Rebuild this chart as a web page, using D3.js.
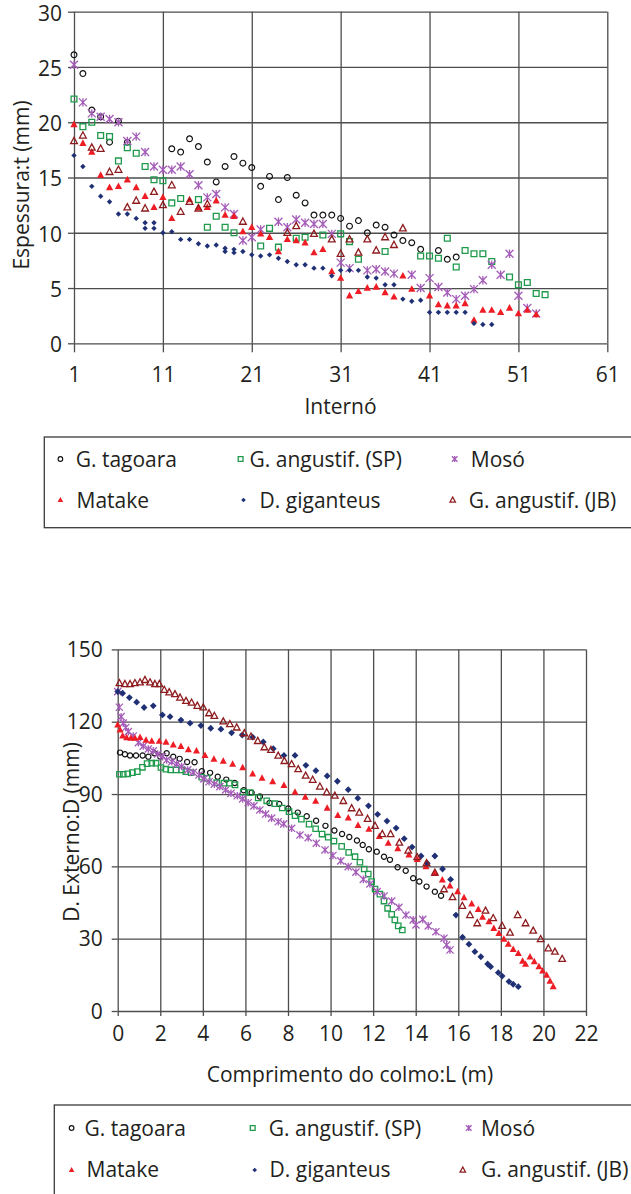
<!DOCTYPE html>
<html>
<head>
<meta charset="utf-8">
<script src="https://cdn.jsdelivr.net/npm/d3@7"></script>
<style>
  body { margin: 0; background: #fff; }
  svg { display: block; }
  text { font-family: "Open Sans", sans-serif; fill: #231f20; }
</style>
</head>
<body>
<div id="chart"></div>
<script>
// ---- series names (legend order) ----
const seriesNames = ["G. tagoara", "G. angustif. (SP)", "Mosó", "Matake", "D. giganteus", "G. angustif. (JB)"];

// ---- top chart: internode number vs wall thickness t (mm) ----
const topTagoara = [[1,26.1],[2,24.4],[3,21.1],[4,20.5],[5,18.2],[6,20.1],[7,18.2],[12,17.6],[13,17.3],[14,18.5],[15,17.8],[16,16.4],[17,14.6],[18,16.0],[19,16.9],[20,16.3],[21,15.9],[22,14.2],[23,15.1],[24,13.0],[25,15.0],[26,13.4],[27,12.7],[28,11.6],[29,11.6],[30,11.6],[31,11.3],[32,10.6],[33,11.1],[34,10.0],[35,10.7],[36,10.5],[37,9.8],[38,9.3],[39,9.1],[40,8.5],[42,8.4],[43,7.6],[44,7.8]];
const topAngustSP = [[1,22.1],[2,19.6],[3,20.0],[4,18.8],[5,18.7],[6,16.5],[7,17.7],[8,17.2],[9,16.0],[10,14.8],[11,14.7],[12,12.7],[13,13.1],[15,13.0],[16,10.5],[17,11.5],[18,10.5],[19,10.0],[22,8.8],[23,10.4],[24,8.7],[26,9.5],[27,9.6],[29,9.8],[31,9.9],[32,9.2],[33,7.6],[36,8.3],[40,7.9],[41,7.9],[42,7.7],[43,9.5],[44,6.9],[45,8.4],[46,8.1],[47,8.1],[48,7.4],[50,6.0],[51,5.3],[52,5.5],[53,4.5],[54,4.4]];
const topMoso = [[1,25.2],[2,21.8],[3,20.8],[4,20.5],[5,20.3],[6,20.0],[7,18.3],[8,18.7],[9,17.3],[10,16.0],[11,15.7],[12,15.7],[13,16.0],[14,15.3],[15,14.3],[16,13.2],[17,13.5],[18,12.3],[19,11.7],[20,9.3],[21,9.6],[22,10.3],[24,11.0],[25,10.5],[26,11.2],[27,10.9],[28,10.8],[29,10.8],[30,9.9],[31,7.3],[32,6.8],[34,6.6],[35,6.7],[36,6.5],[37,6.3],[39,6.2],[40,5.0],[41,5.9],[42,5.1],[43,4.6],[44,4.0],[45,4.3],[46,4.9],[47,5.7],[48,7.1],[49,6.2],[50,8.1],[51,4.3],[52,3.2],[53,2.7]];
const topMatake = [[1,19.8],[2,18.1],[3,17.3],[4,15.2],[5,14.1],[6,14.2],[7,14.8],[8,14.1],[9,13.3],[10,12.3],[11,13.2],[12,11.3],[14,13.0],[15,12.3],[16,12.3],[17,12.9],[18,11.6],[19,11.5],[20,10.1],[21,10.5],[22,9.9],[23,9.6],[24,8.3],[25,9.4],[26,9.3],[27,9.1],[28,8.2],[29,8.5],[30,6.5],[31,5.9],[32,4.3],[33,4.7],[34,5.0],[35,5.1],[36,4.6],[37,4.2],[38,6.1],[39,4.9],[41,4.3],[42,3.5],[43,3.4],[44,3.4],[45,3.6],[46,2.1],[47,3.0],[48,3.0],[49,2.8],[50,3.2],[51,2.7],[52,3.0],[53,2.6]];
const topGiganteus = [[1,17.0],[2,16.0],[3,14.2],[4,13.3],[5,12.8],[6,11.7],[7,11.7],[8,11.3],[9,10.9],[9,10.4],[10,10.9],[10,10.4],[11,10.0],[12,10.1],[13,9.4],[14,9.4],[15,9.0],[16,8.8],[17,8.9],[18,8.6],[18,8.3],[19,8.5],[19,8.2],[20,8.3],[21,8.0],[22,7.9],[23,8.0],[24,7.7],[25,7.4],[26,7.1],[27,7.1],[28,6.8],[29,6.8],[30,6.1],[31,6.6],[32,6.6],[33,6.6],[34,6.0],[35,5.9],[36,5.3],[37,5.3],[38,4.0],[39,3.8],[40,3.9],[41,2.8],[42,2.8],[43,2.8],[44,2.8],[45,2.8],[46,1.8],[47,1.7],[48,1.7]];
const topAngustJB = [[1,18.3],[2,18.8],[3,17.7],[4,17.6],[5,15.5],[6,15.7],[7,12.3],[8,12.9],[9,12.2],[10,13.7],[11,12.5],[12,14.3],[13,11.9],[14,12.8],[15,12.2],[16,12.6],[20,11.0],[25,10.0],[26,10.6],[28,9.9],[30,9.4],[31,8.1],[32,9.4],[33,8.2],[34,9.4],[35,8.4],[36,9.6],[37,8.9],[38,10.4]];
const topXTicks = [1, 11, 21, 31, 41, 51, 61];
const topYTicks = [0, 5, 10, 15, 20, 25, 30];

// ---- bottom chart: culm length L (m) vs outer diameter D (mm) ----
const botTagoara = [[0.11,107.2],[0.34,106.5],[0.58,106.0],[0.86,106.0],[1.17,106.0],[1.44,105.5],[1.72,106.9],[1.99,105.6],[2.3,106.9],[2.61,105.5],[2.91,104.6],[3.26,103.3],[3.61,103.2],[3.95,99.5],[4.34,98.8],[4.7,97.2],[5.1,96.0],[5.5,94.6],[5.92,91.6],[6.29,90.5],[6.68,89.0],[7.13,86.3],[7.59,85.9],[8.01,84.0],[8.46,82.3],[8.88,80.8],[9.32,78.9],[9.76,76.8],[10.18,74.9],[10.54,73.4],[10.88,72.2],[11.24,70.7],[11.51,68.9],[11.8,67.1],[12.17,66.1],[12.51,64.0],[12.79,62.7],[13.15,59.6],[13.53,58.2],[13.88,55.1],[14.17,53.7],[14.51,51.6],[14.9,49.5],[15.19,47.8]];
const botAngustSP = [[0.08,98.2],[0.26,98.2],[0.47,98.4],[0.69,98.9],[0.92,99.3],[1.16,101.1],[1.38,102.6],[1.6,102.8],[1.8,102.8],[2.03,101.0],[2.26,100.3],[2.49,100.0],[2.74,100.0],[3.0,100.0],[3.2,99.3],[3.45,98.9],[3.95,97.0],[4.2,96.5],[4.65,94.7],[4.99,94.5],[5.25,94.5],[5.51,93.8],[5.9,90.8],[6.22,90.6],[6.6,88.4],[7.0,87.2],[7.38,86.0],[7.73,84.2],[8.05,82.7],[8.33,81.0],[8.63,79.6],[8.99,77.5],[9.3,75.6],[9.6,73.4],[9.89,72.1],[10.16,70.5],[10.52,68.3],[10.85,65.8],[11.15,64.0],[11.38,61.7],[11.58,58.9],[11.77,56.8],[11.93,53.7],[12.09,50.6],[12.32,48.5],[12.51,45.6],[12.68,42.6],[12.87,40.1],[13.02,37.8],[13.18,35.3],[13.37,33.6]];
const botMoso = [[0.0,132.5],[0.08,126.0],[0.16,122.1],[0.26,119.4],[0.38,117.6],[0.5,115.9],[0.73,114.1],[0.97,111.3],[1.2,109.9],[1.44,108.7],[1.67,107.9],[1.88,106.6],[2.11,105.5],[2.3,104.1],[2.54,103.4],[2.77,102.5],[3.0,101.4],[3.29,100.0],[3.55,99.0],[3.82,97.9],[4.05,96.3],[4.29,95.1],[4.54,94.1],[4.8,93.1],[5.07,91.7],[5.32,90.3],[5.62,89.3],[5.87,88.0],[6.13,86.4],[6.4,85.1],[6.68,83.4],[6.95,81.7],[7.23,80.0],[7.54,78.5],[7.8,77.6],[8.17,75.8],[8.56,73.0],[8.95,71.9],[9.33,69.6],[9.74,66.8],[10.11,64.5],[10.48,62.3],[10.83,59.9],[11.19,57.6],[11.54,54.6],[11.85,52.7],[12.19,49.5],[12.52,47.7],[12.87,45.6],[13.21,43.0],[13.54,39.8],[13.88,37.8],[14.01,35.7],[14.33,38.0],[14.59,35.3],[14.95,32.9],[15.33,30.2],[15.45,27.4],[15.61,25.3]];
const botMatake = [[0.0,118.7],[0.11,116.6],[0.23,114.1],[0.42,113.4],[0.62,113.2],[0.81,113.2],[1.05,113.5],[1.33,112.4],[1.6,112.0],[1.95,111.9],[2.27,111.5],[2.61,110.4],[2.97,109.8],[3.32,108.4],[3.7,107.9],[4.1,106.0],[4.52,104.5],[4.96,103.7],[5.4,102.4],[5.87,101.0],[6.34,98.4],[6.78,96.6],[7.28,95.2],[7.81,93.6],[8.33,90.8],[8.81,88.7],[9.3,87.1],[9.84,84.2],[10.34,81.2],[10.83,80.1],[11.29,77.0],[11.8,75.4],[12.29,72.4],[12.71,69.6],[13.16,67.4],[13.68,64.8],[14.07,62.9],[14.48,59.9],[14.9,57.1],[15.25,54.4],[15.61,51.9],[15.97,49.5],[16.27,47.0],[16.63,44.4],[16.94,42.2],[17.14,38.9],[17.44,37.1],[17.67,34.3],[17.91,32.2],[18.14,29.8],[18.35,27.7],[18.58,25.6],[18.82,23.9],[19.02,20.7],[19.16,19.4],[19.37,22.5],[19.57,20.5],[19.79,18.4],[19.96,16.6],[20.15,14.9],[20.31,12.4],[20.46,10.1]];
const botGiganteus = [[0.0,132.5],[0.23,131.8],[0.55,130.0],[0.89,128.1],[1.24,125.9],[1.67,126.6],[2.1,122.8],[2.46,122.1],[2.97,120.7],[3.4,119.4],[3.91,118.4],[4.37,117.3],[4.85,116.9],[5.35,115.4],[5.85,114.5],[6.34,113.6],[6.84,111.6],[7.31,108.8],[7.81,106.0],[8.33,106.0],[8.84,101.9],[9.31,99.7],[9.84,97.5],[10.32,95.3],[10.83,91.8],[11.28,88.3],[11.78,85.1],[12.21,81.6],[12.65,78.8],[13.08,75.9],[13.46,71.5],[13.83,68.0],[14.25,64.3],[14.54,61.3],[14.9,64.3],[15.26,58.9],[15.64,54.6],[15.89,39.8],[16.2,30.6],[16.5,27.7],[16.78,24.6],[17.06,22.5],[17.38,19.5],[17.52,18.4],[17.88,15.9],[18.06,14.5],[18.38,12.2],[18.58,11.1],[18.82,10.1]];
const botAngustJB = [[0.08,136.0],[0.34,135.6],[0.58,135.6],[0.81,136.0],[1.05,136.3],[1.28,137.3],[1.52,136.3],[1.75,135.6],[1.96,135.6],[2.19,133.2],[2.42,132.2],[2.69,131.4],[2.93,130.0],[3.21,128.6],[3.47,127.9],[3.74,126.6],[4.02,125.9],[4.29,123.5],[4.54,122.4],[4.96,120.1],[5.27,119.0],[5.59,117.6],[5.95,115.2],[6.26,113.8],[6.58,112.0],[6.89,109.4],[7.2,108.3],[7.54,105.9],[7.83,103.7],[8.17,102.4],[8.48,100.3],[8.83,97.6],[9.16,95.9],[9.5,93.1],[9.82,90.7],[10.2,89.3],[10.6,87.1],[10.99,84.1],[11.35,82.3],[11.74,79.7],[12.09,76.8],[12.43,73.4],[12.82,73.4],[13.23,69.8],[13.65,66.5],[14.07,63.8],[14.51,61.3],[14.9,57.4],[15.33,50.5],[15.73,47.2],[16.19,43.6],[16.55,39.8],[16.89,36.4],[17.28,41.6],[17.64,38.5],[18.06,35.3],[18.43,32.5],[18.79,39.8],[19.16,36.4],[19.52,33.3],[19.87,29.8],[20.23,26.0],[20.54,24.6],[20.88,21.6]];
const botXTicks = [0, 2, 4, 6, 8, 10, 12, 14, 16, 18, 20, 22];
const botYTicks = [0, 30, 60, 90, 120, 150];

// ---- marker styles (same order as seriesNames) ----
const seriesStyles = [
  { kind: "circle",   stroke: "#111",    fill: "none",    sw: 1.2 },
  { kind: "square",   stroke: "#1f9a4c", fill: "none",    sw: 1.3 },
  { kind: "star",     stroke: "#a45cb8", fill: "none",    sw: 1.3 },
  { kind: "triangle", stroke: "none",    fill: "#ee1c25", sw: 0 },
  { kind: "diamond",  stroke: "none",    fill: "#1f3174", sw: 0 },
  { kind: "triangle", stroke: "#8e1c1f", fill: "none",    sw: 1.3 },
];

function markerPath(kind, s) {
  switch (kind) {
    case "circle":
      return `M${s},0A${s},${s} 0 1,1 ${-s},0A${s},${s} 0 1,1 ${s},0Z`;
    case "square":
      return `M${-s},${-s}H${s}V${s}H${-s}Z`;
    case "triangle":
      return `M0,${-s * 1.1}L${s},${s * 0.75}L${-s},${s * 0.75}Z`;
    case "diamond":
      return `M0,${-s}L${s},0L0,${s}L${-s},0Z`;
    case "star":
      return `M${-s},${-s}L${s},${s}M${s},${-s}L${-s},${s}M0,${-s * 1.05}V${s * 1.05}`;
  }
}

const GRID_COLOR = "#4d4d4d";

const svg = d3.select("#chart").append("svg")
  .attr("width", 631)
  .attr("height", 1194);

function drawPanel(cfg) {
  const { x, y, xTicks, yTicks, series, sizes, xTickLen, yTickLen, yPad, xLabelBase, yLabelDy } = cfg;
  const [x0, x1] = x.range();
  const [y0, y1] = y.range();
  const g = svg.append("g");

  // vertical gridlines
  g.append("g")
    .attr("transform", `translate(0,${y0})`)
    .call(d3.axisBottom(x).tickValues(xTicks).tickSize(-(y0 - y1)).tickFormat(""))
    .call((a) => a.select(".domain").remove())
    .call((a) => a.selectAll("line").attr("stroke", GRID_COLOR).attr("stroke-width", 1.3));

  // horizontal gridlines
  g.append("g")
    .attr("transform", `translate(${x0},0)`)
    .call(d3.axisLeft(y).tickValues(yTicks).tickSize(-(x1 - x0)).tickFormat(""))
    .call((a) => a.select(".domain").remove())
    .call((a) => a.selectAll("line").attr("stroke", GRID_COLOR).attr("stroke-width", 1.3));

  // x tick marks + labels
  g.append("g")
    .attr("transform", `translate(0,${y0})`)
    .call(d3.axisBottom(x).tickValues(xTicks).tickSize(xTickLen).tickFormat(d3.format("d")))
    .call((a) => a.select(".domain").remove())
    .call((a) => a.selectAll("line").attr("stroke", GRID_COLOR).attr("stroke-width", 1.3))
    .call((a) => a.selectAll("text")
      .attr("y", xLabelBase).attr("dy", null)
      .attr("fill", "#231f20")
      .style("font-family", "'Open Sans', sans-serif").style("font-size", "21px"));

  // y tick marks + labels
  g.append("g")
    .attr("transform", `translate(${x0},0)`)
    .call(d3.axisLeft(y).tickValues(yTicks).tickSize(yTickLen).tickPadding(yPad).tickFormat(d3.format("d")))
    .call((a) => a.select(".domain").remove())
    .call((a) => a.selectAll("line").attr("stroke", GRID_COLOR).attr("stroke-width", 1.3))
    .call((a) => a.selectAll("text")
      .attr("dy", yLabelDy)
      .attr("fill", "#231f20")
      .style("font-family", "'Open Sans', sans-serif").style("font-size", "21px"));

  // series markers
  series.forEach((data, i) => {
    const st = seriesStyles[i];
    g.append("g")
      .selectAll("path")
      .data(data)
      .join("path")
      .attr("transform", (d) => `translate(${x(d[0])},${y(d[1])})`)
      .attr("d", markerPath(st.kind, sizes[i]))
      .attr("fill", st.fill)
      .attr("stroke", st.stroke)
      .attr("stroke-width", st.sw);
  });
}

// ---- top panel ----
drawPanel({
  x: d3.scaleLinear().domain([1, 61]).range([74, 607.3]),
  y: d3.scaleLinear().domain([0, 30]).range([343.3, 11.7]),
  xTicks: topXTicks,
  yTicks: topYTicks,
  series: [topTagoara, topAngustSP, topMoso, topMatake, topGiganteus, topAngustJB],
  sizes: [2.9, 2.9, 4.0, 3.6, 2.7, 3.4],
  xTickLen: 9,
  yTickLen: 6,
  yPad: 6,
  xLabelBase: 38.5,
  yLabelDy: "0.4em",
});

// ---- bottom panel ----
drawPanel({
  x: d3.scaleLinear().domain([0, 22]).range([117.7, 586]),
  y: d3.scaleLinear().domain([0, 150]).range([1011, 649.4]),
  xTicks: botXTicks,
  yTicks: botYTicks,
  series: [botTagoara, botAngustSP, botMoso, botMatake, botGiganteus, botAngustJB],
  sizes: [2.6, 2.7, 3.6, 3.5, 3.4, 3.3],
  xTickLen: 5,
  yTickLen: 6,
  yPad: 9,
  xLabelBase: 30,
  yLabelDy: "0.34em",
});

// ---- axis titles ----
svg.append("text").attr("x", 340.5).attr("y", 414).attr("text-anchor", "middle")
  .style("font-size", "21px").text("Internó");
svg.append("text").attr("transform", "translate(28.5,185) rotate(-90)").attr("text-anchor", "middle")
  .style("font-size", "21px").text("Espessura:t (mm)");
svg.append("text").attr("transform", "translate(79,832) rotate(-90)").attr("text-anchor", "middle")
  .style("font-size", "21px").text("D. Externo:D (mm)");
svg.append("text").attr("x", 350).attr("y", 1082).attr("text-anchor", "middle")
  .style("font-size", "21px").text("Comprimento do colmo:L (m)");

// ---- legends ----
function drawLegend(box, rows) {
  const g = svg.append("g");
  g.append("rect")
    .attr("x", box.x).attr("y", box.y).attr("width", box.w).attr("height", box.h)
    .attr("fill", "none").attr("stroke", "#3a3a3a").attr("stroke-width", 1.3);
  const legendSizes = [2.3, 2.4, 2.8, 2.8, 2.3, 2.7];
  rows.forEach((r) => {
    const st = seriesStyles[r.i];
    g.append("path")
      .attr("transform", `translate(${r.mx},${r.my})`)
      .attr("d", markerPath(st.kind, legendSizes[r.i]))
      .attr("fill", st.fill).attr("stroke", st.stroke).attr("stroke-width", st.sw);
    g.append("text").attr("x", r.tx).attr("y", r.ty)
      .style("font-size", "21px").text(seriesNames[r.i]);
  });
}

drawLegend({ x: 44.3, y: 437, w: 620, h: 90.7 }, [
  { i: 0, mx: 60.4,  my: 459, tx: 75.7,  ty: 466.7 },
  { i: 1, mx: 240.6, my: 459, tx: 249.5, ty: 466.7 },
  { i: 2, mx: 454.7, my: 459, tx: 470.8, ty: 466.7 },
  { i: 3, mx: 60.4,  my: 500, tx: 76.5,  ty: 507.7 },
  { i: 4, mx: 243.5, my: 500, tx: 259.6, ty: 507.7 },
  { i: 5, mx: 452.7, my: 500, tx: 468.8, ty: 507.7 },
]);

drawLegend({ x: 54.3, y: 1105, w: 620, h: 120 }, [
  { i: 0, mx: 71.6,  my: 1128, tx: 84.5,  ty: 1136 },
  { i: 1, mx: 252.7, my: 1128, tx: 268.8, ty: 1136 },
  { i: 2, mx: 468.8, my: 1128, tx: 480.9, ty: 1136 },
  { i: 3, mx: 71.6,  my: 1170, tx: 86.5,  ty: 1177.3 },
  { i: 4, mx: 254.7, my: 1170, tx: 269.6, ty: 1177.3 },
  { i: 5, mx: 462.8, my: 1170, tx: 480.9, ty: 1177.3 },
]);
</script>
</body>
</html>
